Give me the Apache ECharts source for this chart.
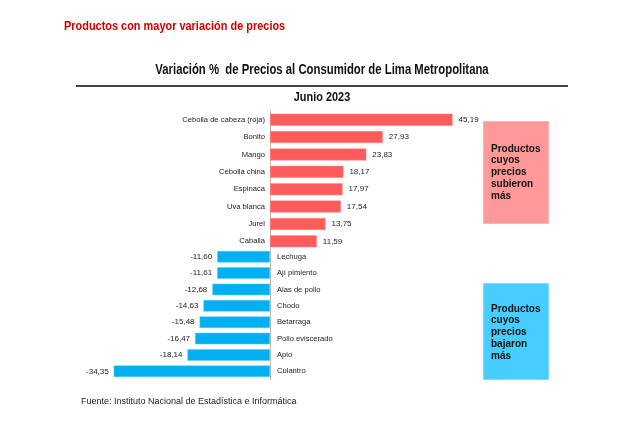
<!DOCTYPE html>
<html>
<head>
<meta charset="utf-8">
<script src="https://cdn.jsdelivr.net/npm/echarts@6/dist/echarts.min.js"></script>
<style>
html,body{margin:0;padding:0;background:#fff;}
#chart{width:640px;height:441px;}
</style>
</head>
<body>
<div id="chart"></div>
<script>
var upCategories = ['Cebolla de cabeza (roja)', 'Bonito', 'Mango', 'Cebolla china', 'Espinaca', 'Uva blanca', 'Jurel', 'Caballa'];
var upValues = [45.19, 27.93, 23.83, 18.17, 17.97, 17.54, 13.75, 11.59];
var downCategories = ['Lechuga', 'Ají pimiento', 'Alas de pollo', 'Chodo', 'Betarraga', 'Pollo eviscerado', 'Apio', 'Culantro'];
var downValues = [-11.60, -11.61, -12.68, -14.63, -15.48, -16.47, -18.14, -34.35];

var headerTitle = 'Productos con mayor variación de precios';
var chartTitle = 'Variación %  de Precios al Consumidor de Lima Metropolitana';
var chartSubtitle = 'Junio 2023';
var upNote = 'Productos\ncuyos\nprecios\nsubieron\nmás';
var downNote = 'Productos\ncuyos\nprecios\nbajaron\nmás';
var sourceText = 'Fuente: Instituto Nacional de Estadística e Informática';

var SANS = "'Liberation Sans', Arial, sans-serif";
var NARROW_SCALE = 0.81;

function fmt(p) { return p.value.toFixed(2).replace('.', ','); }

var chart = echarts.init(document.getElementById('chart'), null, {renderer: 'canvas'});
chart.setOption({
  backgroundColor: '#ffffff',
  animation: false,
  grid: [
    {left: 270, top: 111, width: 202, height: 139, containLabel: false},
    {left: 88, top: 248.5, width: 182, height: 131, containLabel: false}
  ],
  xAxis: [
    {gridIndex: 0, type: 'value', min: 0, max: 50, show: false},
    {gridIndex: 1, type: 'value', min: -40, max: 0, show: false}
  ],
  yAxis: [
    {
      gridIndex: 0, type: 'category', inverse: true, data: upCategories, position: 'left',
      axisLine: {show: true, onZero: false, lineStyle: {color: '#b8b8b8', width: 1}},
      axisTick: {show: false},
      axisLabel: {fontSize: 7.6, color: '#222', fontFamily: SANS, margin: 5}
    },
    {
      gridIndex: 1, type: 'category', inverse: true, data: downCategories, position: 'right',
      axisLine: {show: true, onZero: false, lineStyle: {color: '#b8b8b8', width: 1}},
      axisTick: {show: false},
      axisLabel: {fontSize: 7.6, color: '#222', fontFamily: SANS, margin: 7}
    }
  ],
  series: [
    {
      type: 'bar', xAxisIndex: 0, yAxisIndex: 0, data: upValues, barWidth: 12,
      itemStyle: {color: '#ff5b5b', borderColor: '#ff8a8a', borderWidth: 0.5},
      label: {show: true, position: 'right', distance: 6, formatter: fmt, fontSize: 8, color: '#222', fontFamily: SANS}
    },
    {
      type: 'bar', xAxisIndex: 1, yAxisIndex: 1, data: downValues, barWidth: 11.6,
      itemStyle: {color: '#00b0f0', borderColor: '#5ccdf5', borderWidth: 0.5},
      label: {show: true, position: 'left', distance: 5, formatter: fmt, fontSize: 8, color: '#222', fontFamily: SANS}
    }
  ],
  graphic: [
    {type: 'text', x: 64, y: 26.5, scaleX: NARROW_SCALE, style: {text: headerTitle, fill: '#d00000', font: 'bold 13.5px ' + SANS, textVerticalAlign: 'middle'}},
    {type: 'text', x: 322, y: 70, scaleX: NARROW_SCALE, style: {text: chartTitle, fill: '#111', font: 'bold 14px ' + SANS, textAlign: 'center', textVerticalAlign: 'middle'}},
    {type: 'line', shape: {x1: 76, y1: 86, x2: 568, y2: 86}, style: {stroke: '#444', lineWidth: 2}},
    {type: 'text', x: 322, y: 97, scaleX: NARROW_SCALE, style: {text: chartSubtitle, fill: '#111', font: 'bold 13.5px ' + SANS, textAlign: 'center', textVerticalAlign: 'middle'}},
    {type: 'rect', shape: {x: 483.5, y: 121.5, width: 65, height: 102}, style: {fill: '#ff9999', stroke: '#ffb3b3', lineWidth: 1}},
    {type: 'text', x: 491, y: 143, style: {text: upNote, fill: '#111', font: 'bold 10px ' + SANS, lineHeight: 11.8, textVerticalAlign: 'top'}},
    {type: 'rect', shape: {x: 483.5, y: 283.5, width: 65, height: 96}, style: {fill: '#47cdff', stroke: '#7fdcff', lineWidth: 1}},
    {type: 'text', x: 491, y: 303, style: {text: downNote, fill: '#111', font: 'bold 10px ' + SANS, lineHeight: 11.8, textVerticalAlign: 'top'}},
    {type: 'text', x: 81, y: 402, style: {text: sourceText, fill: '#222', font: '9px ' + SANS, textVerticalAlign: 'middle'}}
  ]
});
</script>
</body>
</html>
